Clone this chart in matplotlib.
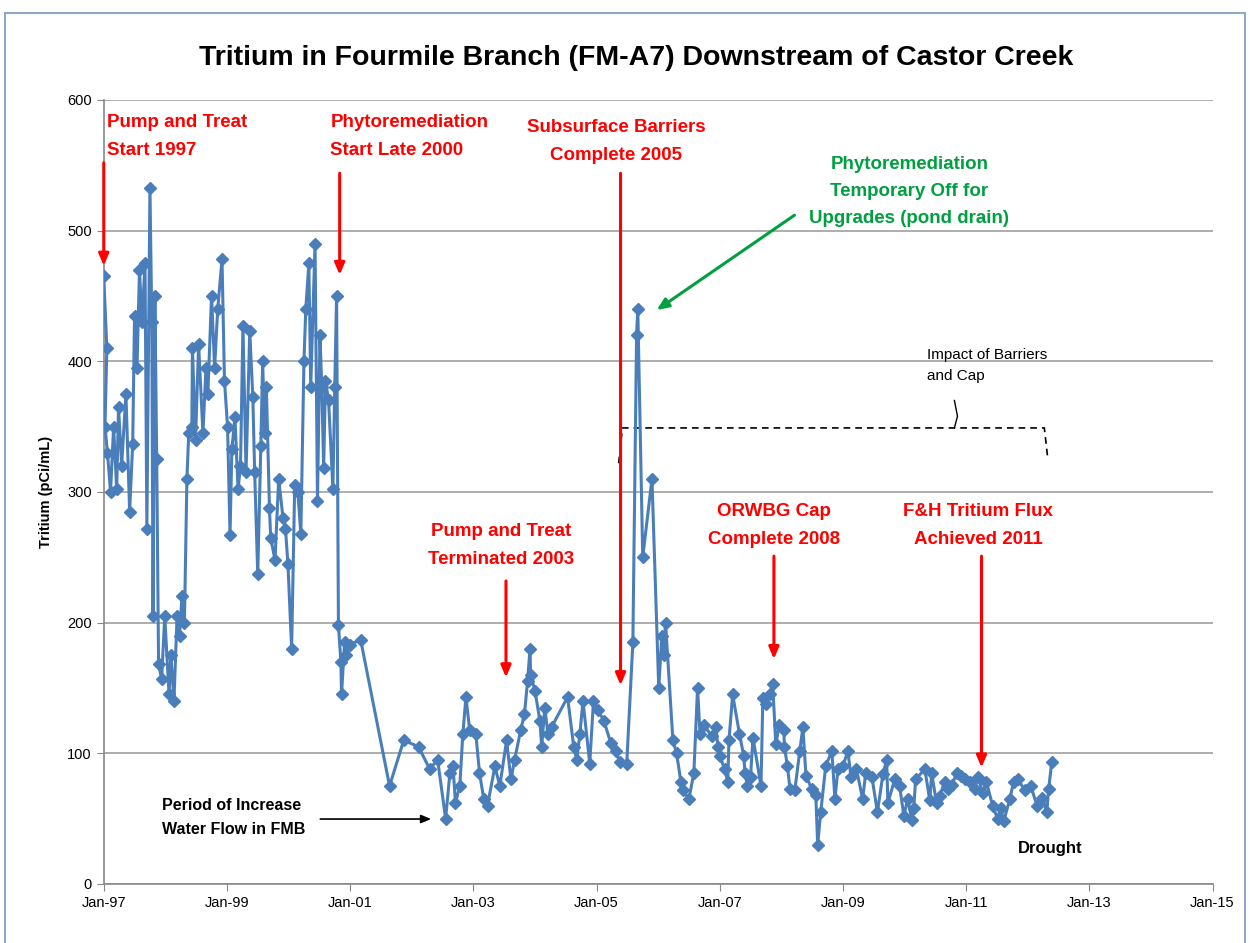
import matplotlib
matplotlib.use('Agg')
import matplotlib.pyplot as plt
import numpy as np
from matplotlib.patches import Rectangle

## sample dates (decimal year) and tritium (pCi/mL)
years = [
    1997.00, 1997.05, 1997.02, 1997.06, 1997.11, 1997.16, 1997.21, 1997.24, 1997.29, 1997.36,
    1997.42, 1997.47, 1997.50, 1997.54, 1997.58, 1997.62, 1997.67, 1997.70, 1997.75, 1997.78,
    1997.80, 1997.83, 1997.86, 1997.89, 1997.94, 1997.99, 1998.06, 1998.09, 1998.14, 1998.19,
    1998.23, 1998.27, 1998.31, 1998.35, 1998.38, 1998.43, 1998.44, 1998.49, 1998.54, 1998.61,
    1998.66, 1998.69, 1998.75, 1998.80, 1998.85, 1998.92, 1998.96, 1999.01, 1999.05, 1999.08,
    1999.13, 1999.18, 1999.22, 1999.26, 1999.31, 1999.37, 1999.42, 1999.45, 1999.50, 1999.55,
    1999.58, 1999.61, 1999.64, 1999.69, 1999.71, 1999.78, 1999.84, 1999.91, 1999.95, 1999.99,
    2000.05, 2000.10, 2000.15, 2000.20, 2000.25, 2000.28, 2000.33, 2000.36, 2000.43, 2000.47,
    2000.51, 2000.54, 2000.57, 2000.60, 2000.65, 2000.72, 2000.75, 2000.78, 2000.81, 2000.85,
    2000.86, 2000.91, 2000.94, 2000.99, 2001.17, 2001.64, 2001.87, 2002.11, 2002.29, 2002.42,
    2002.55, 2002.62, 2002.67, 2002.71, 2002.78, 2002.83, 2002.88, 2002.94, 2003.04, 2003.10,
    2003.17, 2003.23, 2003.35, 2003.43, 2003.54, 2003.61, 2003.67, 2003.77, 2003.83, 2003.88,
    2003.92, 2003.93, 2004.00, 2004.08, 2004.11, 2004.16, 2004.21, 2004.27, 2004.53, 2004.63,
    2004.68, 2004.73, 2004.78, 2004.89, 2004.95, 2005.02, 2005.12, 2005.23, 2005.31, 2005.38,
    2005.49, 2005.59, 2005.65, 2005.67, 2005.75, 2005.90, 2006.01, 2006.06, 2006.09, 2006.12,
    2006.24, 2006.30, 2006.37, 2006.40, 2006.50, 2006.58, 2006.64, 2006.68, 2006.74, 2006.87,
    2006.94, 2006.97, 2007.00, 2007.08, 2007.13, 2007.15, 2007.21, 2007.32, 2007.39, 2007.41,
    2007.45, 2007.50, 2007.54, 2007.67, 2007.70, 2007.75, 2007.81, 2007.86, 2007.91, 2007.97,
    2008.04, 2008.05, 2008.10, 2008.14, 2008.22, 2008.30, 2008.35, 2008.40, 2008.49, 2008.56,
    2008.59, 2008.64, 2008.72, 2008.82, 2008.87, 2008.92, 2009.00, 2009.08, 2009.13, 2009.22,
    2009.32, 2009.37, 2009.47, 2009.56, 2009.65, 2009.71, 2009.73, 2009.84, 2009.92, 2009.99,
    2010.05, 2010.12, 2010.15, 2010.18, 2010.33, 2010.41, 2010.44, 2010.52, 2010.57, 2010.65,
    2010.70, 2010.77, 2010.85, 2010.91, 2010.99, 2011.06, 2011.14, 2011.19, 2011.27, 2011.33,
    2011.43, 2011.51, 2011.56, 2011.61, 2011.71, 2011.77, 2011.84, 2011.95, 2012.05, 2012.15,
    2012.24, 2012.31, 2012.34, 2012.39,
]
tritium = [
    465, 410, 350, 330, 300, 350, 302, 365, 320, 375,
    285, 337, 435, 395, 470, 430, 475, 272, 533, 430,
    205, 450, 325, 168, 157, 205, 145, 175, 140, 205,
    190, 220, 200, 310, 345, 350, 410, 340, 413, 345,
    395, 375, 450, 395, 440, 478, 385, 350, 267, 333,
    357, 302, 320, 427, 315, 423, 373, 315, 237, 335,
    400, 345, 380, 288, 265, 248, 310, 280, 272, 245,
    180, 305, 300, 268, 400, 440, 475, 380, 490, 293,
    420, 380, 318, 385, 370, 302, 380, 450, 198, 170,
    145, 185, 175, 183, 187, 75, 110, 105, 88, 95,
    50, 85, 90, 62, 75, 115, 143, 118, 115, 85,
    65, 60, 90, 75, 110, 80, 95, 118, 130, 155,
    180, 160, 148, 125, 105, 135, 115, 120, 143, 105,
    95, 115, 140, 92, 140, 133, 125, 108, 102, 93,
    92, 185, 420, 440, 250, 310, 150, 190, 175, 200,
    110, 100, 78, 72, 65, 85, 150, 115, 122, 113,
    120, 105, 98, 88, 78, 110, 145, 115, 98, 85,
    75, 82, 112, 75, 142, 138, 145, 153, 107, 122,
    118, 105, 90, 73, 72, 102, 120, 83, 73, 68,
    30, 55, 90, 102, 65, 88, 90, 102, 82, 88,
    65, 85, 82, 55, 84, 95, 62, 80, 75, 52,
    65, 49, 58, 80, 88, 64, 85, 62, 67, 78,
    73, 76, 85, 83, 80, 78, 73, 82, 70, 78,
    60, 50, 58, 48, 65, 78, 80, 72, 75, 60,
    66, 55, 73, 93,
]

tick_years = [1997, 1999, 2001, 2003, 2005, 2007, 2009, 2011, 2013, 2015]
tick_labels = ['Jan-97', 'Jan-99', 'Jan-01', 'Jan-03', 'Jan-05',
               'Jan-07', 'Jan-09', 'Jan-11', 'Jan-13', 'Jan-15']

plt.rcParams['font.family'] = ['Liberation Sans', 'DejaVu Sans']

fig = plt.figure(figsize=(12.5, 9.43), dpi=100)
ax = fig.add_axes([0.083, 0.0626, 0.887, 0.8314])

## outer chart border
fig.patches.append(Rectangle((0.004, -0.01), 0.992, 0.996, transform=fig.transFigure,
                             fill=False, edgecolor='#8EA9C8', linewidth=1.5))

ax.plot(years, tritium, color='#4A7EBB', lw=2.2, marker='D', ms=6.5,
        markerfacecolor='#4A7EBB', markeredgecolor='#4A7EBB', zorder=3)

ax.set_xlim(1997, 2015)
ax.set_ylim(0, 600)
ax.set_xticks(tick_years)
ax.set_xticklabels(tick_labels)
ax.set_yticks(np.arange(0, 601, 100))
ax.tick_params(axis='both', labelsize=10.5, direction='out', length=5, color='#888888')
ax.yaxis.grid(True, color='#A0A0A0', lw=1.2)
ax.set_axisbelow(True)
for s in ['top', 'right']:
    ax.spines[s].set_visible(False)
for s in ['left', 'bottom']:
    ax.spines[s].set_color('#888888')
    ax.spines[s].set_linewidth(1.2)

ax.set_ylabel('Tritium (pCi/mL)', fontsize=10.5, fontweight='bold', labelpad=10)
fig.text(0.509, 0.938, 'Tritium in Fourmile Branch (FM-A7) Downstream of Castor Creek',
         fontsize=20.5, fontweight='bold', ha='center', va='center')

red = '#FF0000'
green = '#00A040'
tkw = dict(fontsize=13.5, color=red, fontweight='bold', linespacing=1.85, va='center')

## red event labels + arrows
ax.text(1997.05, 572, 'Pump and Treat\nStart 1997', ha='left', **tkw)
ax.text(2000.68, 572, 'Phytoremediation\nStart Late 2000', ha='left', **tkw)
ax.text(2005.32, 568, 'Subsurface Barriers\nComplete 2005', ha='center', **tkw)
ax.text(2003.45, 259, 'Pump and Treat\nTerminated 2003', ha='center', **tkw)
ax.text(2007.88, 274, 'ORWBG Cap\nComplete 2008', ha='center', **tkw)
ax.text(2011.2, 274, 'F&H Tritium Flux\nAchieved 2011', ha='center', **tkw)

akw = dict(arrowstyle='-|>,head_length=0.7,head_width=0.3', color=red, lw=2.2)
ax.annotate('', xy=(1997.0, 471), xytext=(1997.0, 554), arrowprops=akw)
ax.annotate('', xy=(2000.83, 464), xytext=(2000.83, 546), arrowprops=akw)
ax.annotate('', xy=(2005.39, 150), xytext=(2005.39, 546), arrowprops=akw)
ax.annotate('', xy=(2003.53, 156), xytext=(2003.53, 234), arrowprops=akw)
ax.annotate('', xy=(2007.88, 170), xytext=(2007.88, 253), arrowprops=akw)
ax.annotate('', xy=(2011.25, 87), xytext=(2011.25, 253), arrowprops=akw)

## green label + arrow
ax.text(2010.08, 530, 'Phytoremediation\nTemporary Off for\nUpgrades (pond drain)',
        ha='center', va='center', fontsize=13.5, color=green, fontweight='bold',
        linespacing=1.75)
ax.annotate('', xy=(2005.94, 438), xytext=(2008.25, 513),
            arrowprops=dict(arrowstyle='-|>,head_length=0.7,head_width=0.3', color=green, lw=2.2))

## black label + arrow
ax.text(1997.94, 51, 'Period of Increase\nWater Flow in FMB', ha='left', va='center',
        fontsize=11.5, fontweight='bold', color='black', linespacing=1.75)
ax.annotate('', xy=(2002.36, 49.7), xytext=(2000.47, 49.7),
            arrowprops=dict(arrowstyle='-|>,head_length=0.6,head_width=0.25', color='black', lw=1.2))
ax.text(2011.84, 27, 'Drought', ha='left', va='center', fontsize=12, fontweight='bold')

## dashed bracket "Impact of Barriers and Cap"
ax.plot([2005.36, 2005.42, 2012.27, 2012.32], [322, 349, 349, 328], color='black',
        ls=(0, (4, 3)), lw=1.2)
ax.plot([2010.81, 2010.86, 2010.81], [349, 358, 370], color='black', lw=1.0)
ax.text(2010.36, 397, 'Impact of Barriers\nand Cap', ha='left', va='center',
        fontsize=11, color='black', linespacing=1.6)

plt.savefig('out.png', dpi=100)
plt.close(fig)
